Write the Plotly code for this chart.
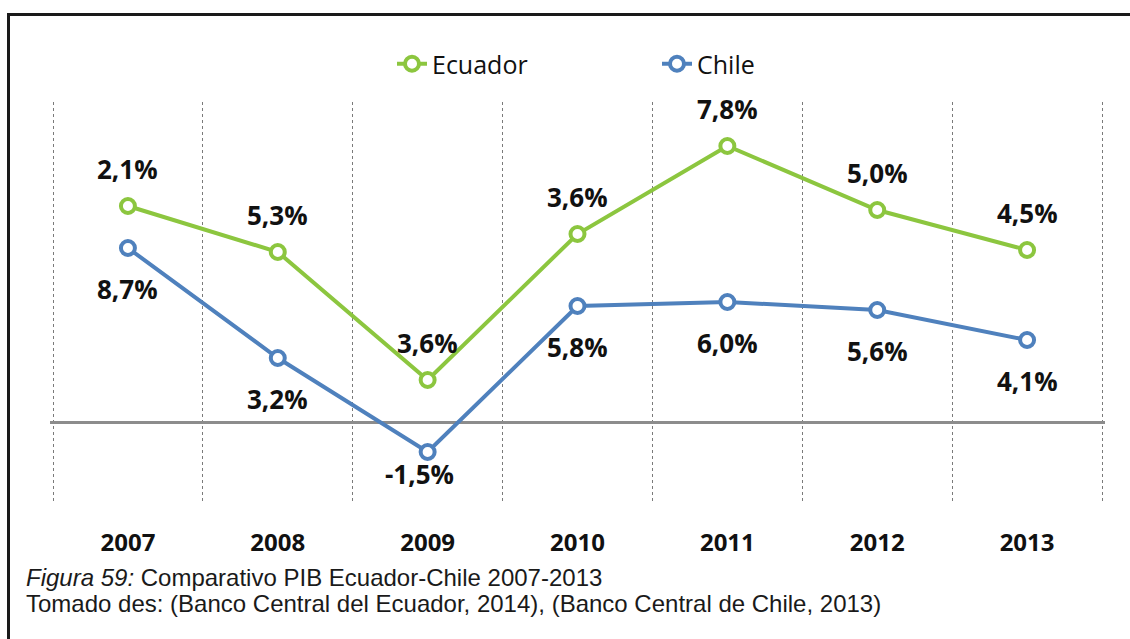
import plotly.graph_objects as go

# Crecimiento anual del PIB (%), Ecuador y Chile
years = ["2007", "2008", "2009", "2010", "2011", "2012", "2013"]
chile = [8.7, 3.2, -1.5, 5.8, 6.0, 5.6, 4.1]
ecuador = [2.1, 5.3, 3.6, 3.6, 7.8, 5.0, 4.5]

GREEN = "#8CC63F"
BLUE = "#4F81BD"
LABEL_FONT = dict(family="Open Sans", size=26, color="#111111", weight="bold")


def pct(v):
    return f"{v:.1f}%".replace(".", ",")


fig = go.Figure()

# Líneas apiladas: Ecuador se dibuja sobre el valor de Chile
fig.add_trace(go.Scatter(
    x=years, y=chile, name="Chile", stackgroup="pib", fill="none",
    mode="lines+markers",
    line=dict(color=BLUE, width=4),
    marker=dict(symbol="circle", size=14, color="white",
                line=dict(color=BLUE, width=4)),
))
fig.add_trace(go.Scatter(
    x=years, y=ecuador, name="Ecuador", stackgroup="pib", fill="none",
    mode="lines+markers",
    line=dict(color=GREEN, width=4),
    marker=dict(symbol="circle", size=14, color="white",
                line=dict(color=GREEN, width=4)),
))

# Etiquetas de datos (posición por índice de categoría)
stacked = [c + e for c, e in zip(chile, ecuador)]
for i, (v, top) in enumerate(zip(ecuador, stacked)):
    fig.add_annotation(x=i, y=top, text=pct(v), showarrow=False,
                       yanchor="middle", yshift=37, font=LABEL_FONT)

chile_shift = {"2009": (-8, -22)}
for i, (yr, v) in enumerate(zip(years, chile)):
    dx, dy = chile_shift.get(yr, (0, -41))
    fig.add_annotation(x=i, y=v, text=pct(v), showarrow=False,
                       yanchor="middle", xshift=dx, yshift=dy, font=LABEL_FONT)

# Pie de figura
cap_font = dict(family="Liberation Sans, Arial", size=24, color="#1a1a1a")
cap_x = (24 - 50) / 1055
fig.add_annotation(xref="paper", yref="paper", x=cap_x, y=-0.1875,
                   xanchor="left", yanchor="middle", showarrow=False,
                   text="<i>Figura 59:</i> Comparativo PIB Ecuador-Chile 2007-2013",
                   font=cap_font)
fig.add_annotation(xref="paper", yref="paper", x=cap_x, y=-0.2525,
                   xanchor="left", yanchor="middle", showarrow=False,
                   text="Tomado des: (Banco Central del Ecuador, 2014), (Banco Central de Chile, 2013)",
                   font=cap_font)

# Marco exterior
fig.add_shape(type="rect", xref="paper", yref="paper",
              x0=(8.5 - 50) / 1055, x1=1.05, y0=-0.5, y1=1.219,
              line=dict(color="#1a1a1a", width=3), fillcolor="rgba(0,0,0,0)",
              layer="above")

fig.update_layout(
    width=1130, height=639,
    margin=dict(l=50, r=25, t=102, b=137),
    paper_bgcolor="white", plot_bgcolor="white",
    showlegend=True,
    legend=dict(orientation="h", traceorder="reversed",
                x=(392 - 50) / 1055, xanchor="left", y=1.095, yanchor="middle",
                entrywidth=220, entrywidthmode="pixels",
                font=dict(family="Open Sans", size=25, color="#111111"),
                bgcolor="rgba(0,0,0,0)"),
    xaxis=dict(type="category", range=[-0.52, 6.52], tickson="boundaries",
               showgrid=True, gridcolor="#7a7a7a", gridwidth=1, griddash="dot",
               ticks="", showline=False, zeroline=False,
               ticklabelstandoff=24,
               tickfont=dict(family="Open Sans", size=24, color="#111111",
                             weight="bold")),
    yaxis=dict(range=[-4, 16], showgrid=False, showticklabels=False,
               ticks="", showline=False,
               zeroline=True, zerolinecolor="#8c8c8c", zerolinewidth=2.5),
)

fig.write_html("out.html")
